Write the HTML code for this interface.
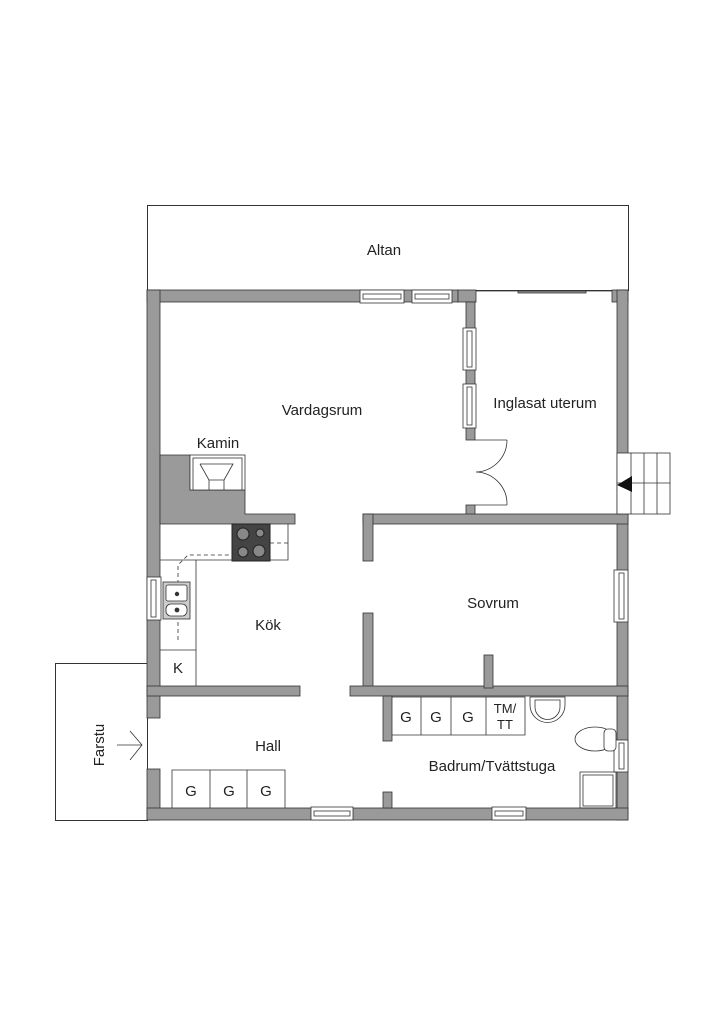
<!DOCTYPE html>
<html><head><meta charset="utf-8"><style>
html,body{margin:0;padding:0;background:#fff;}
svg{display:block;}
text{font-family:"Liberation Sans",sans-serif;fill:#222;}
</style></head><body>
<svg width="724" height="1024" viewBox="0 0 724 1024" xmlns="http://www.w3.org/2000/svg">
<g stroke="#333" stroke-width="1" fill="none">
<!-- Altan -->
<rect x="147.5" y="205.5" width="481" height="85"/>
<!-- Farstu -->
<rect x="55.5" y="663.5" width="92" height="157"/>
</g>
<g fill="#9a9a9a" stroke="#333" stroke-width="0.8">
<!-- top wall -->
<rect x="147" y="290" width="311" height="12"/>
<rect x="458" y="290" width="18" height="12"/>
<rect x="612" y="290" width="16" height="12"/>
<!-- left wall -->
<rect x="147" y="290" width="13" height="428"/>
<rect x="147" y="769" width="13" height="51"/>
<!-- right wall -->
<rect x="617" y="290" width="11" height="530"/>
<!-- bottom wall -->
<rect x="147" y="808" width="481" height="12"/>
<!-- partition Vardagsrum/Inglasat -->
<rect x="466" y="302" width="9" height="138"/>
<rect x="466" y="505" width="9" height="10"/>
<!-- horizontal Vardagsrum/Sovrum -->
<rect x="363" y="514" width="265" height="10"/>
<rect x="363" y="514" width="10" height="47"/>
<rect x="363" y="613" width="10" height="75"/>
<!-- kamin mass -->
<path d="M160 455 H190 V490 H245 V514 H295 V524 H160 Z"/>
<!-- Kök/Hall wall -->
<rect x="147" y="686" width="153" height="10"/>
<rect x="350" y="686" width="278" height="10"/>
<rect x="484" y="655" width="9" height="33"/>
<rect x="383" y="696" width="9" height="45"/>
<rect x="383" y="792" width="9" height="16"/>
</g>
<!-- windows -->
<g fill="#fff" stroke="#333" stroke-width="0.8">
<rect x="360" y="290" width="44" height="13"/><rect x="363" y="294" width="38" height="5"/>
<rect x="412" y="290" width="40" height="13"/><rect x="415" y="294" width="34" height="5"/>
<rect x="463" y="328" width="13" height="42"/><rect x="467" y="331" width="5" height="36"/>
<rect x="463" y="384" width="13" height="44"/><rect x="467" y="387" width="5" height="38"/>
<rect x="614" y="570" width="14" height="52"/><rect x="619" y="573" width="5" height="46"/>
<rect x="614" y="740" width="14" height="32"/><rect x="619" y="743" width="5" height="26"/>
<rect x="147" y="577" width="14" height="43"/><rect x="151" y="580" width="5" height="37"/>
<rect x="311" y="807" width="42" height="13"/><rect x="314" y="811" width="36" height="5"/>
<rect x="492" y="807" width="34" height="13"/><rect x="495" y="811" width="28" height="5"/>
<!-- kamin -->
<rect x="190" y="455" width="55" height="35"/>
<rect x="193" y="458" width="49" height="32"/>
<!-- stairs -->
<rect x="617" y="453" width="53" height="61"/>
</g>
<g stroke="#333" stroke-width="0.8" fill="none">
<path d="M200 464 H233 L224 480 V490 M200 464 L209 480 V490 M209 480 H224"/>
<line x1="631" y1="453" x2="631" y2="514"/><line x1="644" y1="453" x2="644" y2="514"/><line x1="657" y1="453" x2="657" y2="514"/>
<line x1="617" y1="483" x2="670" y2="483"/>
<!-- sliding glass top uterum -->
<line x1="476" y1="291" x2="612" y2="291"/>
<rect x="518" y="291" width="68" height="2" fill="#999"/>
<!-- door -->
<line x1="475" y1="440" x2="507" y2="440"/><line x1="475" y1="505" x2="507" y2="505"/>
<path d="M507 440 A32 32 0 0 1 476 472 M507 505 A32 32 0 0 0 476 472"/>
<!-- kitchen counters -->
<path d="M160 560 H288 V524 M196 560 V686 M160 650 H196"/>
<path d="M178 640 V565 L188 555 H232 M270 543 H288" stroke-dasharray="4 3"/>
<!-- hall G -->
<path d="M172 808 V770 H285 V808 M210 770 V808 M247 770 V808"/>
<!-- bath -->
<path d="M392 697 H525 V735 H392 M421 697 V735 M451 697 V735 M486 697 V735"/>
<path d="M530 697 H565 V705 A17 17 0 0 1 530 705 Z"/>
<path d="M535 700 H560 V707 A12 12 0 0 1 535 707 Z"/>
<ellipse cx="595" cy="739" rx="20" ry="12"/>
<rect x="604" y="729" width="12" height="22" rx="4" fill="#fff"/>
<rect x="580" y="772" width="36" height="36"/>
<rect x="583" y="775" width="30" height="31"/>
<!-- farstu arrow -->
<path d="M117 745 H142 M130 731 L142 745 L130 760"/>
</g>
<polygon points="617,485 632,476 632,492" fill="#111"/>
<!-- stove -->
<rect x="232" y="524" width="38" height="37" fill="#444" stroke="#222"/>
<g fill="#888" stroke="#222">
<circle cx="243" cy="534" r="6"/><circle cx="260" cy="533" r="4"/>
<circle cx="243" cy="552" r="5"/><circle cx="259" cy="551" r="6"/>
</g>
<!-- sink -->
<g stroke="#333" fill="#fff" stroke-width="0.8">
<rect x="163" y="582" width="27" height="37" fill="#ccc"/>
<rect x="166" y="585" width="21" height="16" rx="2"/>
<rect x="166" y="604" width="21" height="12" rx="5"/>
<circle cx="177" cy="594" r="1.8" fill="#333"/><circle cx="177" cy="610" r="2" fill="#333"/>
</g>
<g font-size="15" text-anchor="middle">
<text x="384" y="255">Altan</text>
<text x="322" y="415">Vardagsrum</text>
<text x="218" y="448">Kamin</text>
<text x="545" y="408">Inglasat uterum</text>
<text x="493" y="608">Sovrum</text>
<text x="268" y="630">Kök</text>
<text x="268" y="751">Hall</text>
<text x="492" y="771">Badrum/Tvättstuga</text>
<text x="178" y="673">K</text>
<text x="191" y="796">G</text><text x="229" y="796">G</text><text x="266" y="796">G</text>
<text x="406" y="722">G</text><text x="436" y="722">G</text><text x="468" y="722">G</text>
<text x="505" y="713" font-size="13">TM/</text>
<text x="505" y="729" font-size="13">TT</text>
<text transform="translate(104,745) rotate(-90)">Farstu</text>
</g>
</svg>
</body></html>
